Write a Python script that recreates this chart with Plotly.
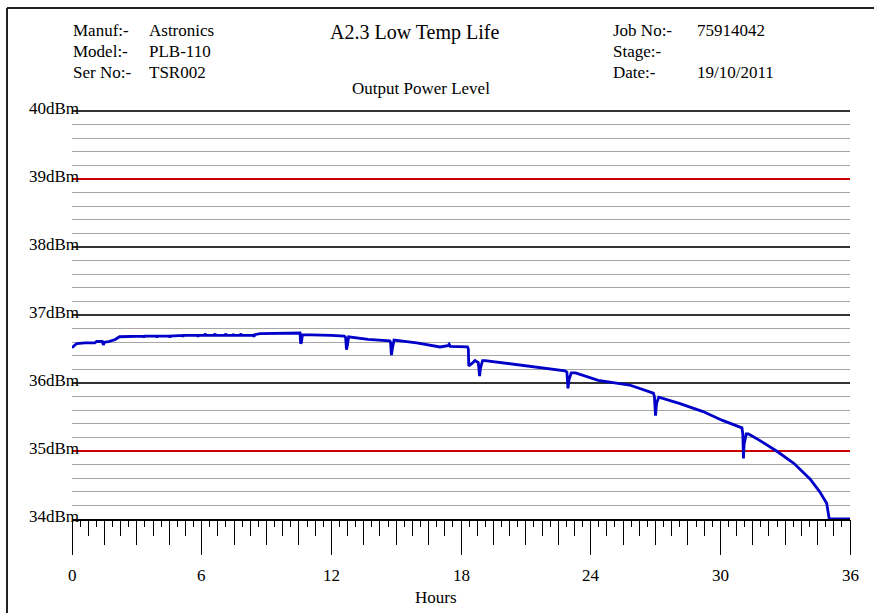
import plotly.graph_objects as go

# ---------------- data ----------------
hours = [0.00, 0.10, 0.22, 0.60, 1.06, 1.14, 1.40, 1.45, 1.50, 1.70, 2.00, 2.20, 2.84,
         3.30, 3.33, 3.36, 3.90, 3.93, 3.96, 4.50, 4.53, 4.56, 5.10, 5.13, 5.16,
         5.80, 5.83, 5.86, 6.15, 6.17, 6.19, 6.21, 6.60, 6.62, 6.64, 6.66,
         7.10, 7.12, 7.14, 7.16, 7.45, 7.47, 7.49, 7.80, 7.82, 7.84, 7.86,
         8.40, 8.42, 8.45, 8.70, 10.55, 10.58, 10.62, 10.66, 12.00, 12.60, 12.66,
         12.70, 12.74, 12.80, 13.70, 14.70, 14.74, 14.78, 14.82, 14.90, 15.95,
         17.03, 17.40, 17.45, 17.50, 18.30, 18.34, 18.36, 18.55, 18.65, 18.80,
         18.86, 18.90, 19.00, 19.11, 20.58, 22.12, 22.81, 22.90, 22.95, 23.00,
         23.10, 23.30, 24.35, 25.80, 26.90, 26.95, 27.00, 27.05, 27.15, 28.10,
         29.20, 30.10, 31.00, 31.04, 31.07, 31.10, 31.20, 31.30, 31.80, 32.60,
         33.40, 34.15, 34.60, 34.92, 35.04, 36.00]
power_dbm = [36.52, 36.55, 36.58, 36.59, 36.59, 36.61, 36.61, 36.56, 36.60, 36.61, 36.64, 36.68, 36.69,
             36.69, 36.67, 36.69, 36.69, 36.67, 36.69, 36.69, 36.67, 36.69, 36.70, 36.68, 36.70,
             36.70, 36.68, 36.70, 36.70, 36.73, 36.69, 36.70, 36.70, 36.73, 36.69, 36.70,
             36.70, 36.73, 36.69, 36.70, 36.70, 36.72, 36.70, 36.70, 36.73, 36.69, 36.70,
             36.70, 36.68, 36.71, 36.725, 36.735, 36.58, 36.60, 36.71, 36.70, 36.69, 36.67,
             36.49, 36.55, 36.68, 36.64, 36.62, 36.60, 36.41, 36.50, 36.63, 36.59,
             36.53, 36.55, 36.57, 36.54, 36.53, 36.50, 36.25, 36.30, 36.33, 36.30,
             36.10, 36.22, 36.33, 36.33, 36.27, 36.21, 36.18, 36.16, 35.92, 36.05,
             36.15, 36.15, 36.04, 35.97, 35.85, 35.80, 35.52, 35.70, 35.79, 35.70,
             35.58, 35.45, 35.34, 35.25, 34.89, 35.10, 35.25, 35.25, 35.16, 35.00,
             34.82, 34.59, 34.40, 34.23, 34.00, 34.00]

x_range = [0, 36]
x_label_values = [0, 6, 12, 18, 24, 30, 36]
y_label_levels = [34, 35, 36, 37, 38, 39, 40]
y_label_text = ["34dBm", "35dBm", "36dBm", "37dBm", "38dBm", "39dBm", "40dBm"]
black_levels = [36, 37, 38, 40]
red_levels = [35, 39]
x_major_step = 6
x_mid_step = 1.5
x_small_step = 0.75
x_tiny_step = 0.375

header_left = [("Manuf:-", "Astronics"), ("Model:-", "PLB-110"), ("Ser No:-", "TSR002")]
header_right = [("Job No:-", "75914042"), ("Stage:-", ""), ("Date:-", "19/10/2011")]
title_text = "A2.3 Low Temp Life"
subtitle_text = "Output Power Level"
x_title = "Hours"

# ---------------- layout geometry ----------------
W, H = 874, 613
L, R, T, B = 72, 24, 108, 94
PW, PH = W - L - R, H - T - B
PX_PER_DB = 68.0
y_range = [34, 34 + PH / PX_PER_DB]   # a little headroom so the 40 dBm line is drawn


def px(xpix):
    return (xpix - L) / PW


def py(ypix):
    return (H - B - ypix) / PH


FONT = "Liberation Serif"
BLUE = "#0000c8"

fig = go.Figure()
fig.add_trace(go.Scatter(x=hours, y=power_dbm, mode="lines",
                         line=dict(color=BLUE, width=2.8), hoverinfo="skip",
                         showlegend=False))
# invisible traces that activate the helper axes (extra tick levels / coloured grid)
for xa, ya in [("x2", "y"), ("x", "y2"), ("x", "y3")]:
    fig.add_trace(go.Scatter(x=[x_range[0]], y=[y_range[0]], xaxis=xa, yaxis=ya,
                             mode="markers", marker=dict(opacity=0),
                             hoverinfo="skip", showlegend=False))

tickfont = dict(family=FONT, size=17, color="black")

fig.update_layout(
    width=W, height=H,
    margin=dict(l=L, r=R, t=T, b=B, pad=0),
    paper_bgcolor="white", plot_bgcolor="white",
    showlegend=False,
    font=dict(family=FONT, size=17, color="black"),
    xaxis=dict(range=x_range, tick0=0, dtick=x_major_step, ticks="outside", ticklen=34,
               tickwidth=1.3, tickcolor="black", showgrid=False, zeroline=False,
               showline=True, linecolor="black", linewidth=1.5,
               showticklabels=False,
               minor=dict(tick0=0, dtick=x_tiny_step, ticks="outside", ticklen=6,
                          tickwidth=1.3, tickcolor="black", showgrid=False)),
    xaxis2=dict(range=x_range, overlaying="x", anchor="y", side="bottom",
                tick0=0, dtick=x_mid_step, ticks="outside", ticklen=25, tickwidth=1.3,
                tickcolor="black", showticklabels=False, showgrid=False, zeroline=False,
                showline=False,
                minor=dict(tick0=0, dtick=x_small_step, ticks="outside", ticklen=16,
                           tickwidth=1.3, tickcolor="black", showgrid=False)),
    yaxis=dict(range=y_range, tickmode="array", tickvals=y_label_levels,
               ticktext=y_label_text, ticks="",
               showgrid=False, zeroline=False, showline=False,
               tickfont=tickfont, ticklabelstandoff=-8, ticklabelshift=-3,
               minor=dict(tick0=34, dtick=0.2, showgrid=True, gridcolor="#a6a6a6",
                          gridwidth=1.3)),
    yaxis2=dict(range=y_range, overlaying="y", anchor="x", tickmode="array",
                tickvals=black_levels, showticklabels=False, ticks="", showgrid=True,
                gridcolor="#333333", gridwidth=1.5, zeroline=False, showline=False),
    yaxis3=dict(range=y_range, overlaying="y", anchor="x", tickmode="array",
                tickvals=red_levels, showticklabels=False, ticks="", showgrid=True,
                gridcolor="#cc0000", gridwidth=1.6, zeroline=False, showline=False),
)

# outer frame: only the left and top edges fall inside the picture
frame = dict(color="#222222", width=2)
fig.update_layout(shapes=[
    dict(type="line", xref="paper", yref="paper", x0=px(7), x1=px(7),
         y0=py(H + 20), y1=py(8), line=frame, layer="above"),
    dict(type="line", xref="paper", yref="paper", x0=px(7), x1=px(W + 20),
         y0=py(8), y1=py(8), line=frame, layer="above"),
])

ann = []
rows_y = [31, 52, 72]
for (lab, val), yy in zip(header_left, rows_y):
    ann.append(dict(text=lab, x=px(71), y=py(yy), xanchor="left", yanchor="middle"))
    ann.append(dict(text=val, x=px(147), y=py(yy), xanchor="left", yanchor="middle"))
for (lab, val), yy in zip(header_right, rows_y):
    ann.append(dict(text=lab, x=px(611), y=py(yy), xanchor="left", yanchor="middle"))
    if val:
        ann.append(dict(text=val, x=px(695), y=py(yy), xanchor="left", yanchor="middle"))
ann.append(dict(text=title_text, x=px(414), y=py(32), xanchor="center", yanchor="middle",
                font=dict(family=FONT, size=20, color="black")))
ann.append(dict(text=subtitle_text, x=px(421), y=py(88), xanchor="center", yanchor="middle"))
ann.append(dict(text=x_title, x=px(436), y=py(597), xanchor="center", yanchor="middle"))
for a in ann:
    a.update(xref="paper", yref="paper")
# x tick labels placed on the x scale
for v in x_label_values:
    ann.append(dict(text=str(v), x=v, xref="x", y=py(575), yref="paper",
                    xanchor="center", yanchor="middle"))
for a in ann:
    a.update(showarrow=False)
    a.setdefault("font", dict(family=FONT, size=17, color="black"))
fig.update_layout(annotations=ann)

fig.write_html("out.html", config={"displayModeBar": False},
               post_script="document.body.style.margin='0';document.body.style.overflow='hidden';")
